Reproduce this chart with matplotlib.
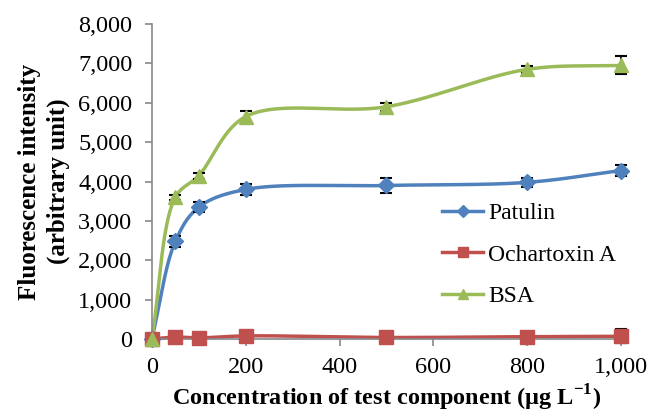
import numpy as np
import matplotlib
matplotlib.use("Agg")
import matplotlib.pyplot as plt

plt.rcParams['font.family'] = ['Liberation Serif', 'DejaVu Serif']
plt.rcParams['mathtext.fontset'] = 'custom'
plt.rcParams['mathtext.rm'] = 'Liberation Serif'
plt.rcParams['mathtext.bf'] = 'Liberation Serif:bold'

conc = [0, 50, 100, 200, 500, 800, 1000]
patulin = [0, 2480, 3350, 3800, 3900, 3980, 4280]
patulin_err = [0, 130, 120, 130, 200, 120, 130]
ota = [0, 50, 30, 80, 40, 60, 70]
ota_err = [0, 20, 20, 30, 20, 30, 180]
bsa = [0, 3600, 4150, 5650, 5900, 6850, 6950]
bsa_err = [0, 60, 80, 150, 100, 90, 230]

series_names = ["Patulin", "Ochartoxin A", "BSA"]
colors = ["#4F81BD", "#C0504D", "#9BBB59"]
markers = ["D", "s", "^"]
msizes = [8, 10, 10]
yticks = [0, 1000, 2000, 3000, 4000, 5000, 6000, 7000, 8000]
xticks = [0, 200, 400, 600, 800, 1000]


def smooth(ax, x, y, n=60):
    # Smoothed line through the data points (centripetal Catmull-Rom in display space)
    P = ax.transData.transform(np.column_stack([x, y]).astype(float))
    pts = [P[0]]
    alpha = 0.5
    for i in range(len(P) - 1):
        p0 = P[i - 1] if i > 0 else 2 * P[i] - P[i + 1]
        p1 = P[i]
        p2 = P[i + 1]
        p3 = P[i + 2] if i + 2 < len(P) else 2 * P[i + 1] - P[i]
        t0 = 0.0
        t1 = t0 + max(np.linalg.norm(p1 - p0), 1e-6) ** alpha
        t2 = t1 + max(np.linalg.norm(p2 - p1), 1e-6) ** alpha
        t3 = t2 + max(np.linalg.norm(p3 - p2), 1e-6) ** alpha
        t = np.linspace(t1, t2, n)[1:, None]
        A1 = (t1 - t) / (t1 - t0) * p0 + (t - t0) / (t1 - t0) * p1
        A2 = (t2 - t) / (t2 - t1) * p1 + (t - t1) / (t2 - t1) * p2
        A3 = (t3 - t) / (t3 - t2) * p2 + (t - t2) / (t3 - t2) * p3
        B1 = (t2 - t) / (t2 - t0) * A1 + (t - t0) / (t2 - t0) * A2
        B2 = (t3 - t) / (t3 - t1) * A2 + (t - t1) / (t3 - t1) * A3
        C = (t2 - t) / (t2 - t1) * B1 + (t - t1) / (t2 - t1) * B2
        pts.extend(C)
    pts = ax.transData.inverted().transform(np.array(pts))
    return pts[:, 0], pts[:, 1]


fig = plt.figure(figsize=(6.49, 4.15), dpi=100)
ax = fig.add_axes([0.234, 0.183, 0.723, 0.759])
ax.set_xlim(0, 1000)
ax.set_ylim(0, 8000)

for name, vals, errs, c, m, ms in zip(series_names, [patulin, ota, bsa],
                                      [patulin_err, ota_err, bsa_err], colors, markers, msizes):
    sx, sy = smooth(ax, conc, vals)
    ax.plot(sx, sy, color=c, lw=2.5, zorder=2, clip_on=False)
    ax.errorbar(conc, vals, yerr=errs, fmt='none', ecolor='black', elinewidth=1.2,
                capsize=4, capthick=1.5, zorder=3, clip_on=False)
    ax.plot(conc, vals, linestyle='none', marker=m, color=c, markersize=ms, zorder=4,
            clip_on=False)
    ax.plot([], [], color=c, lw=2.5, marker=m, markersize=ms * 0.75, label=name)

ax.set_xticks(xticks)
ax.set_yticks(yticks)
ax.set_xticklabels([f"{v:,}" for v in xticks])
ax.set_yticklabels([f"{v:,}" for v in yticks])
ax.tick_params(axis='both', labelsize=17.5, direction='out', length=5, color='#888888', width=1.2)
ax.tick_params(axis='x', pad=8)
ax.tick_params(axis='y', pad=9)
for s in ['top', 'right']:
    ax.spines[s].set_visible(False)
for s in ['left', 'bottom']:
    ax.spines[s].set_color('#888888')
    ax.spines[s].set_linewidth(1.2)

ax.set_xlabel("Concentration of test component (μg L$^{\\mathbf{-1}}$)", fontsize=17.5,
              fontweight='bold', labelpad=3)
ax.set_ylabel("Fluorescence intensity\n(arbitrary unit)", fontsize=18, fontweight='bold',
              labelpad=6, linespacing=1.3)

leg = ax.legend(loc='center left', bbox_to_anchor=(0.618, 0.267), frameon=False, fontsize=17,
                handlelength=1.75, handletextpad=0.2, labelspacing=0.85, borderaxespad=0,
                borderpad=0)

fig.savefig("out.png", dpi=100)
